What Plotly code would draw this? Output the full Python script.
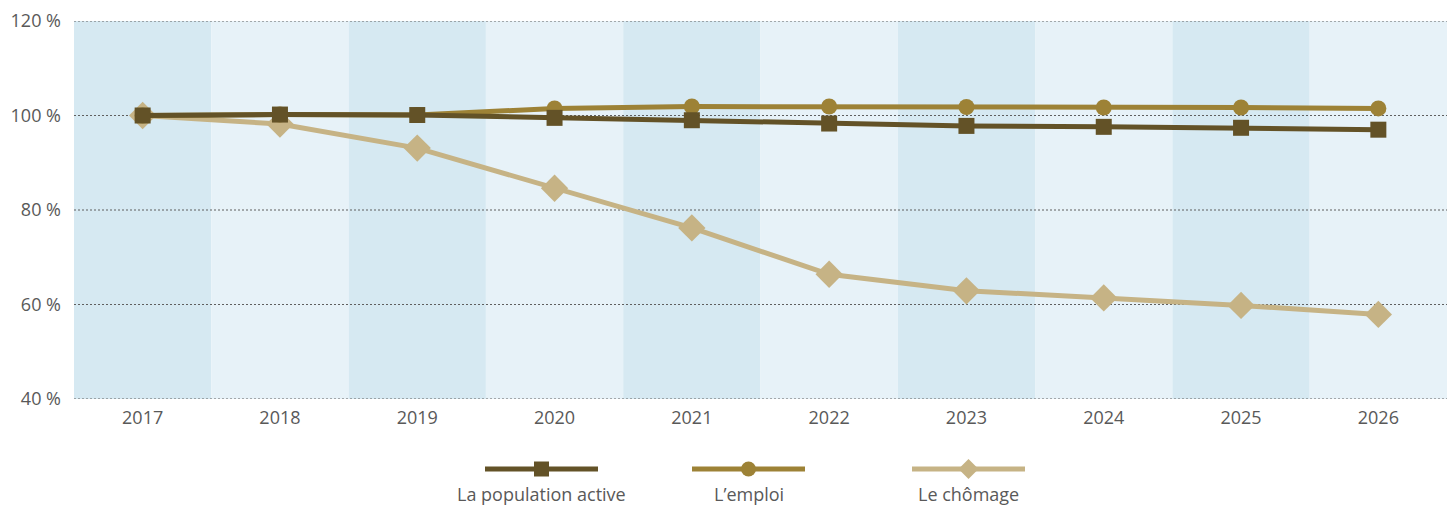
import plotly.graph_objects as go

years = ["2017", "2018", "2019", "2020", "2021", "2022", "2023", "2024", "2025", "2026"]
population_active = [100.0, 100.2, 100.1, 99.5, 99.0, 98.3, 97.8, 97.6, 97.4, 97.0]
emploi = [100.0, 100.2, 100.1, 101.5, 101.9, 101.9, 101.8, 101.7, 101.7, 101.5]
chomage = [100.0, 98.2, 93.1, 84.6, 76.2, 66.4, 62.9, 61.4, 59.8, 57.9]
y_ticks = [40, 60, 80, 100, 120]
y_tick_labels = ["40 %", "60 %", "80 %", "100 %", "120 %"]
series_names = ["La population active", "L\u2019emploi", "Le chômage"]

c_pop = "#635227"
c_emp = "#9d8236"
c_cho = "#c6b385"
font_family = "Open Sans, Liberation Sans, sans-serif"
text_color = "#595959"
grid_color = "#5f5f5f"

fig = go.Figure()

n = len(years)
# alternating background bands
shapes = []
for i in range(n):
    shapes.append(dict(type="rect", xref="x", yref="y", x0=i - 0.5, x1=i + 0.5,
                       y0=y_ticks[0], y1=y_ticks[-1], layer="below", line=dict(width=0),
                       fillcolor="#d6e9f2" if i % 2 == 0 else "#e7f2f8"))
# dotted horizontal gridlines (including the bottom one)
for t in y_ticks:
    shapes.append(dict(type="line", xref="x", yref="y", x0=-0.5, x1=n - 0.5, y0=t, y1=t,
                       line=dict(color=grid_color, width=1, dash="2px,2px"), layer="below"))

fig.add_trace(go.Scatter(x=years, y=chomage, name=series_names[2], mode="lines+markers",
                         line=dict(color=c_cho, width=5),
                         marker=dict(symbol="diamond", size=21, color=c_cho)))
fig.add_trace(go.Scatter(x=years, y=emploi, name=series_names[1], mode="lines+markers",
                         line=dict(color=c_emp, width=5),
                         marker=dict(symbol="circle", size=16, color=c_emp)))
fig.add_trace(go.Scatter(x=years, y=population_active, name=series_names[0], mode="lines+markers",
                         line=dict(color=c_pop, width=5),
                         marker=dict(symbol="square", size=16, color=c_pop)))

# custom legend (symbol line above label); page pixel positions -> paper coords
PL, PB = 74.0, 399.0      # plot area left / bottom on the page
W, H = 1373.0, 378.0      # plot area size
legend_specs = [
    (series_names[0], c_pop, "square", 541.5),
    (series_names[1], c_emp, "circle", 748.5),
    (series_names[2], c_cho, "diamond", 968.5),
]
annotations = []
ly = (PB - 469) / H
for name, col, sym, px in legend_specs:
    cx = (px - PL) / W
    half = 56.5 / W
    shapes.append(dict(type="line", xref="paper", yref="paper", x0=cx - half, x1=cx + half,
                       y0=ly, y1=ly, line=dict(color=col, width=5), layer="above"))
    sx = 7.5 / W
    sy = 7.5 / H
    if sym == "square":
        shapes.append(dict(type="rect", xref="paper", yref="paper", x0=cx - sx, x1=cx + sx,
                           y0=ly - sy, y1=ly + sy, fillcolor=col, line=dict(width=0), layer="above"))
    elif sym == "circle":
        shapes.append(dict(type="circle", xref="paper", yref="paper", x0=cx - sx, x1=cx + sx,
                           y0=ly - sy, y1=ly + sy, fillcolor=col, line=dict(width=0), layer="above"))
    else:
        dx = 10 / W
        dy = 10 / H
        path = f"M {cx - dx} {ly} L {cx} {ly + dy} L {cx + dx} {ly} L {cx} {ly - dy} Z"
        shapes.append(dict(type="path", xref="paper", yref="paper", path=path,
                           fillcolor=col, line=dict(width=0), layer="above"))
    annotations.append(dict(text=name, xref="paper", yref="paper", x=cx, y=(PB - 494) / H,
                            showarrow=False, xanchor="center", yanchor="middle",
                            font=dict(family=font_family, size=18, color=text_color)))

fig.update_layout(
    width=1456, height=506,
    margin=dict(l=74, r=9, t=21, b=107),
    paper_bgcolor="white", plot_bgcolor="white",
    showlegend=False,
    shapes=shapes, annotations=annotations,
    font=dict(family=font_family, size=18, color=text_color),
)
fig.update_xaxes(type="category", range=[-0.5, n - 0.5], showgrid=False, showline=False,
                 zeroline=False, ticks="", ticklabelstandoff=6,
                 tickfont=dict(size=18, color=text_color))
fig.update_yaxes(range=[40, 120], tickvals=y_ticks, ticktext=y_tick_labels,
                 showgrid=False, zeroline=False, showline=False, ticks="", ticklabelstandoff=12,
                 tickfont=dict(size=18, color=text_color))

# remove the default 8px page margin so the figure fills the window exactly
fig.write_html("out.html",
               config={"displayModeBar": False},
               post_script="document.body.style.margin='0';document.body.style.overflow='hidden';")
